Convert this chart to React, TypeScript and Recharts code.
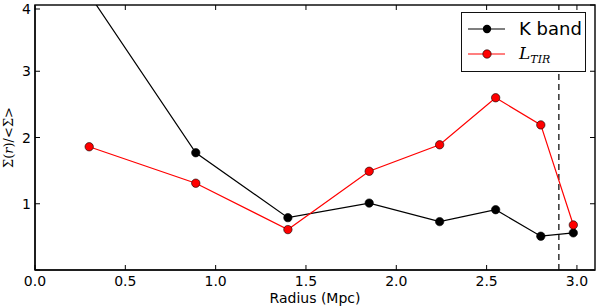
import React from "react";
import {
  LineChart,
  Line,
  XAxis,
  YAxis,
  ReferenceLine,
  ReferenceArea,
  Legend,
} from "recharts";

// radius (Mpc) of each annulus
const kRadius = [0.3, 0.89, 1.4, 1.85, 2.24, 2.55, 2.8, 2.98];
const kValues = [4.16, 1.77, 0.79, 1.01, 0.73, 0.91, 0.51, 0.56];

const tirRadius = [0.3, 0.89, 1.4, 1.85, 2.24, 2.55, 2.8, 2.98];
const tirValues = [1.86, 1.31, 0.61, 1.49, 1.89, 2.6, 2.19, 0.68];

const xTicks = [0, 0.5, 1.0, 1.5, 2.0, 2.5, 3.0];
const yTicks = [0, 1, 2, 3, 4];
const xMax = 3.1;
const yMax = 4;
const r200 = 2.9;

const kData = kRadius.map((r, i) => ({ r, v: kValues[i] }));
const tirData = tirRadius.map((r, i) => ({ r, v: tirValues[i] }));

const FONT = "'DejaVu Sans', sans-serif";
const MATH = "'DejaVu Serif', serif";
const FRAME = { stroke: "#111", strokeWidth: 1.5 };
const TICK = 5;

const BottomTick = (props: any) => {
  const { x, y, payload } = props;
  return (
    <g>
      <line x1={x} y1={y} x2={x} y2={y - TICK} stroke="#000" />
      <text x={x} y={y + 16} textAnchor="middle" fontSize={14} fontFamily={FONT} fill="#000">
        {Number(payload.value).toFixed(1)}
      </text>
    </g>
  );
};

const LeftTick = (props: any) => {
  const { x, y, payload } = props;
  return (
    <g>
      <line x1={x} y1={y} x2={x + TICK} y2={y} stroke="#000" />
      {payload.value !== 0 && (
        <text x={x - 4} y={y} dy="0.36em" textAnchor="end" fontSize={14} fontFamily={FONT} fill="#000">
          {payload.value}
        </text>
      )}
    </g>
  );
};

// short inward tick at the top edge of a vertical reference line
const TopTickShape = (props: any) => {
  const top = Math.min(props.y1, props.y2);
  return <line x1={props.x1} y1={top} x2={props.x1} y2={top + TICK} stroke="#000" strokeWidth={1} />;
};

// short inward tick at the right edge of a horizontal reference line
const RightTickShape = (props: any) => {
  const right = Math.max(props.x1, props.x2);
  return <line x1={right} y1={props.y1} x2={right - TICK} y2={props.y1} stroke="#000" strokeWidth={1} />;
};

const LegendBox = () => (
  <div
    style={{
      width: 125,
      height: 60,
      boxSizing: "border-box",
      border: "1.5px solid #111",
      background: "#fff",
      position: "relative",
      fontFamily: FONT,
    }}
  >
    <svg width={50} height={57} style={{ position: "absolute", left: 0, top: 0 }}>
      <line x1={6} y1={16} x2={43} y2={16} stroke="#000" strokeWidth={1.2} />
      <circle cx={25} cy={16} r={4.2} fill="#000" />
      <line x1={6} y1={41} x2={43} y2={41} stroke="#ff0000" strokeWidth={1.2} />
      <circle cx={25} cy={41} r={4.2} fill="#ff0000" stroke="#000" strokeWidth={0.6} />
    </svg>
    <div style={{ position: "absolute", left: 57, top: 5, fontSize: 18, lineHeight: "22px" }}>
      K band
    </div>
    <div style={{ position: "absolute", left: 57, top: 30, fontSize: 17, lineHeight: "20px", fontFamily: MATH, fontStyle: "italic" }}>
      L<sub style={{ fontSize: 11, verticalAlign: "-4px" }}>TIR</sub>
    </div>
  </div>
);

export default function App() {
  return (
    <div style={{ position: "absolute", left: 0, top: 0, background: "#fff" }}>
      <LineChart width={597} height={308} margin={{ top: 5, right: 2, bottom: 0, left: 0 }}>
        <XAxis
          dataKey="r"
          type="number"
          domain={[0, xMax]}
          ticks={xTicks}
          allowDataOverflow
          height={38}
          tickSize={0}
          tickMargin={0}
          tick={<BottomTick />}
          axisLine={FRAME}
          label={(p: any) => {
            const vb = p.viewBox;
            return (
              <text x={vb.x + vb.width / 2} y={vb.y + vb.height - 5} textAnchor="middle" fontSize={14} fontFamily={FONT} fill="#000">
                Radius (Mpc)
              </text>
            );
          }}
        />
        <YAxis
          type="number"
          domain={[0, yMax]}
          ticks={yTicks}
          allowDataOverflow
          width={35}
          tickSize={0}
          tickMargin={0}
          tick={<LeftTick />}
          axisLine={FRAME}
          label={(p: any) => {
            const vb = p.viewBox;
            const cx = vb.x + 8;
            const cy = vb.y + vb.height / 2;
            return (
              <text x={cx} y={cy} transform={`rotate(-90 ${cx} ${cy})`} textAnchor="middle" dy="0.35em" fontSize={13} fontFamily={MATH} fill="#000">
                Σ(<tspan fontStyle="italic">r</tspan>)/&lt;Σ&gt;
              </text>
            );
          }}
        />
        {/* frame box and inward ticks on top and right */}
        <ReferenceArea
          x1={0}
          x2={xMax}
          y1={0}
          y2={yMax}
          fill="none"
          fillOpacity={0}
          stroke={FRAME.stroke}
          strokeWidth={FRAME.strokeWidth}
          strokeOpacity={1}
          ifOverflow="visible"
        />
        {xTicks.map((t) => (
          <ReferenceLine key={`tx${t}`} x={t} ifOverflow="visible" shape={<TopTickShape />} />
        ))}
        {yTicks.map((t) => (
          <ReferenceLine key={`ry${t}`} y={t} ifOverflow="visible" shape={<RightTickShape />} />
        ))}
        <ReferenceLine x={r200} stroke="#000" strokeDasharray="6 4" strokeWidth={1.2} />
        <Line
          data={kData}
          dataKey="v"
          name="K band"
          stroke="#000"
          strokeWidth={1.2}
          dot={{ r: 4.2, fill: "#000", stroke: "#000", strokeWidth: 0.6 }}
          isAnimationActive={false}
        />
        <Line
          data={tirData}
          dataKey="v"
          name="L_TIR"
          stroke="#ff0000"
          strokeWidth={1.2}
          dot={{ r: 4.2, fill: "#ff0000", stroke: "#000", strokeWidth: 0.6 }}
          isAnimationActive={false}
        />
        <Legend
          layout="horizontal"
          verticalAlign="middle"
          align="center"
          content={() => <LegendBox />}
          wrapperStyle={{ left: 461, top: 12, width: 125, height: 60 }}
        />
      </LineChart>
    </div>
  );
}
